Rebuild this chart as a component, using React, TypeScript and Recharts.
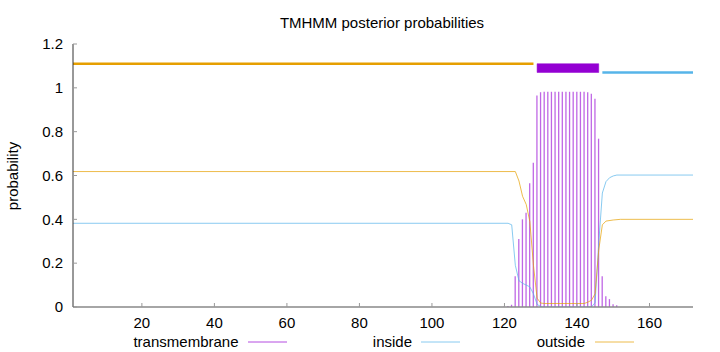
import React from 'react';
import {
  ComposedChart,
  Bar,
  Line,
  XAxis,
  YAxis,
  ReferenceLine,
  ReferenceArea,
} from 'recharts';

// posterior probability per residue (only the residues where something happens)
const tmPos = [120, 121, 122, 123, 124, 125, 126, 127, 128, 129, 130, 131, 132, 133, 134, 135, 136, 137, 138, 139, 140, 141, 142, 143, 144, 145, 146, 147, 148, 149, 150, 151];
const tmProb = [0.003, 0.004, 0.01, 0.14, 0.31, 0.4, 0.43, 0.565, 0.658, 0.965, 0.98, 0.982, 0.982, 0.982, 0.982, 0.982, 0.982, 0.982, 0.982, 0.982, 0.982, 0.982, 0.982, 0.98, 0.973, 0.95, 0.768, 0.14, 0.049, 0.036, 0.012, 0.008];

const insidePos = [1, 121, 122, 123, 124, 125, 126, 127, 128, 129, 130, 131, 144, 145, 146, 147, 148, 149, 150, 151, 172];
const insideProb = [0.382, 0.382, 0.375, 0.19, 0.12, 0.108, 0.1, 0.092, 0.06, 0.012, 0.002, 0, 0, 0.02, 0.29, 0.52, 0.572, 0.59, 0.598, 0.602, 0.602];

const outsidePos = [1, 123, 124, 125, 126, 127, 128, 129, 130, 131, 142, 143, 144, 145, 146, 147, 148, 150, 152, 172];
const outsideProb = [0.618, 0.618, 0.575, 0.505, 0.468, 0.39, 0.19, 0.04, 0.018, 0.016, 0.016, 0.022, 0.031, 0.06, 0.26, 0.375, 0.392, 0.397, 0.4, 0.4];

// predicted topology: [from, to]
const outsideSegment = [1, 128];
const helixSegment = [129, 146];
const insideSegment = [147, 172];

const xTicks = [20, 40, 60, 80, 100, 120, 140, 160];
const yTicks = [0, 0.2, 0.4, 0.6, 0.8, 1, 1.2];

const tmData = tmPos.map((x, i) => ({ x, tm: tmProb[i] }));
const insideData = insidePos.map((x, i) => ({ x, p: insideProb[i] }));
const outsideData = outsidePos.map((x, i) => ({ x, p: outsideProb[i] }));

const FONT = '"Liberation Sans", Arial, Helvetica, sans-serif';
const PURPLE = '#9400d3';
const BLUE = '#56b4e9';
const ORANGE = '#e69f00';
const TICK = '#999';

const BottomTick = (props: any) => {
  const { x, y, payload } = props;
  return (
    <g>
      <line x1={x} x2={x} y1={y - 10} y2={y - 14} stroke={TICK} />
      <text x={x} y={y} dy="0.71em" textAnchor="middle" fill="#000" fontSize={15}>
        {payload.value}
      </text>
    </g>
  );
};

const TopTick = (props: any) => {
  const { x, y } = props;
  return <line x1={x} x2={x} y1={y} y2={y + 4} stroke={TICK} />;
};

const LeftTick = (props: any) => {
  const { x, y, payload } = props;
  return (
    <g>
      <line x1={x + 10} x2={x + 14} y1={y} y2={y} stroke={TICK} />
      <text x={x} y={y} dy="0.35em" textAnchor="end" fill="#000" fontSize={15}>
        {payload.value}
      </text>
    </g>
  );
};

const RightTick = (props: any) => {
  const { x, y } = props;
  return <line x1={x} x2={x - 4} y1={y} y2={y} stroke={TICK} />;
};

const legendItems = [
  { label: 'transmembrane', color: PURPLE, right: 238.5, x1: 248, x2: 287 },
  { label: 'inside', color: BLUE, right: 412, x1: 421, x2: 460 },
  { label: 'outside', color: ORANGE, right: 585, x1: 595, x2: 634 },
];

export default function App() {
  return (
    <div style={{ position: 'absolute', left: 0, top: 0, width: 720, height: 352, background: '#fff' }}>
      <ComposedChart
        width={720}
        height={352}
        data={tmData}
        margin={{ top: 44, right: 27, bottom: 0, left: 0 }}
        style={{ fontFamily: FONT }}
      >
        <XAxis
          xAxisId="b"
          dataKey="x"
          type="number"
          domain={[1, 172]}
          allowDataOverflow
          ticks={xTicks}
          interval={0}
          height={45}
          axisLine={{ stroke: '#888', strokeWidth: 1.5 }}
          tickLine={false}
          tickSize={0}
          tickMargin={10}
          tick={BottomTick}
        />
        <XAxis
          xAxisId="t"
          orientation="top"
          dataKey="x"
          type="number"
          domain={[1, 172]}
          allowDataOverflow
          ticks={xTicks}
          interval={0}
          height={0}
          axisLine={{ stroke: '#333' }}
          tickLine={false}
          tickSize={0}
          tickMargin={0}
          tick={TopTick}
        />
        <YAxis
          yAxisId="l"
          type="number"
          domain={[0, 1.2]}
          allowDataOverflow
          ticks={yTicks}
          interval={0}
          width={73}
          axisLine={{ stroke: '#333' }}
          tickLine={false}
          tickSize={0}
          tickMargin={10}
          tick={LeftTick}
        />
        <YAxis
          yAxisId="r"
          orientation="right"
          type="number"
          domain={[0, 1.2]}
          allowDataOverflow
          ticks={yTicks}
          interval={0}
          width={0}
          axisLine={{ stroke: '#333' }}
          tickLine={false}
          tickSize={0}
          tickMargin={0}
          tick={RightTick}
        />
        <Bar
          xAxisId="b"
          yAxisId="l"
          dataKey="tm"
          barSize={1.3}
          fill={PURPLE}
          fillOpacity={0.6}
          isAnimationActive={false}
        />
        <Line
          xAxisId="b"
          yAxisId="l"
          data={insideData}
          dataKey="p"
          type="linear"
          stroke={BLUE}
          strokeWidth={1}
          strokeOpacity={0.7}
          dot={false}
          isAnimationActive={false}
        />
        <Line
          xAxisId="b"
          yAxisId="l"
          data={outsideData}
          dataKey="p"
          type="linear"
          stroke={ORANGE}
          strokeWidth={1}
          strokeOpacity={0.7}
          dot={false}
          isAnimationActive={false}
        />
        <ReferenceLine
          xAxisId="b"
          yAxisId="l"
          segment={[{ x: outsideSegment[0], y: 1.11 }, { x: outsideSegment[1], y: 1.11 }]}
          stroke={ORANGE}
          strokeWidth={2.5}
        />
        <ReferenceArea
          xAxisId="b"
          yAxisId="l"
          x1={helixSegment[0]}
          x2={helixSegment[1]}
          y1={1.07}
          y2={1.11}
          fill={PURPLE}
          fillOpacity={1}
          stroke={PURPLE}
          strokeOpacity={0.5}
        />
        <ReferenceLine
          xAxisId="b"
          yAxisId="l"
          segment={[{ x: insideSegment[0], y: 1.07 }, { x: insideSegment[1], y: 1.07 }]}
          stroke={BLUE}
          strokeWidth={2.5}
        />
      </ComposedChart>
      <svg
        width={720}
        height={352}
        style={{ position: 'absolute', left: 0, top: 0, pointerEvents: 'none' }}
        fontFamily={FONT}
        fontSize={15}
      >
        <text x={382} y={28.3} textAnchor="middle" fill="#000">
          TMHMM posterior probabilities
        </text>
        <text transform="translate(17.5,176) rotate(-90)" textAnchor="middle" fill="#000">
          probability
        </text>
        {legendItems.map((item) => (
          <g key={item.label}>
            <text x={item.right} y={346.5} textAnchor="end" fill="#000">
              {item.label}
            </text>
            <line x1={item.x1} x2={item.x2} y1={342} y2={342} stroke={item.color} strokeWidth={1} strokeOpacity={0.7} />
          </g>
        ))}
      </svg>
    </div>
  );
}
